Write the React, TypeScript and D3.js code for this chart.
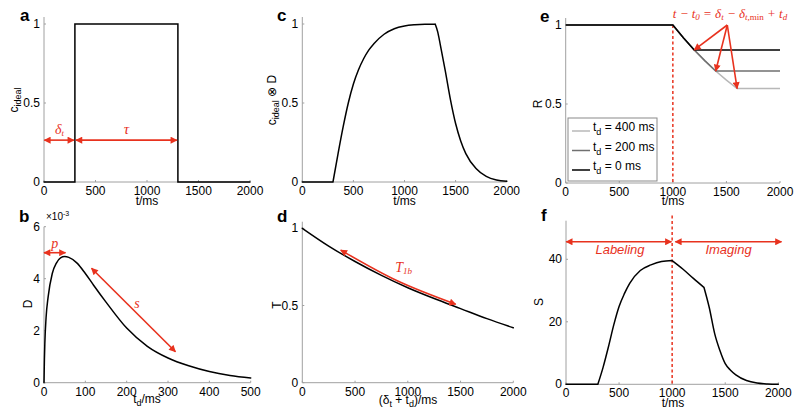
import React from "react";
import * as d3 from "d3";

const RED = "#e8321e";
const AXIS = "#a0a0a0";
const SANS = "'Liberation Sans', Arial, Helvetica, sans-serif";
const SERIF = "'Liberation Serif', 'Times New Roman', serif";

// ---------- data ----------
// (a) ideal labeling function
const tIdeal = [0, 300, 300, 1300, 1300, 2000];
const cIdeal = [0, 0, 1, 1, 0, 0];
const aArrowDelta = [3, 290];
const aArrowTau = [310, 1290];
const aArrowLevel = 0.265;

// (b) dispersion kernel D(td)  (values in units of 1e-3)
const tdB = [0, 1, 2, 5, 10, 20, 30, 40, 50, 60, 80, 100, 120, 150, 200, 250, 300, 350, 400, 450, 500];
const dB = [0, 0.9, 1.5, 2.5, 3.3, 4.2, 4.6, 4.8, 4.85, 4.82, 4.6, 4.2, 3.75, 3.1, 2.1, 1.4, 0.95, 0.65, 0.43, 0.28, 0.18];
const bArrowP = [0, 52];
const bArrowPLevel = 5.0;
const bArrowS = [[115, 4.4], [318, 1.19]];

// (c) convolved labeling function
const tC = [0, 300, 350, 400, 450, 500, 550, 600, 650, 700, 800, 900, 1000, 1100, 1200, 1300,
  1325, 1350, 1400, 1450, 1500, 1550, 1600, 1700, 1800, 1900, 2000];
const cConv = [0, 0, 0.18, 0.35, 0.50, 0.62, 0.71, 0.78, 0.835, 0.875, 0.935, 0.97, 0.987, 0.995, 0.999, 1.0,
  0.95, 0.87, 0.70, 0.52, 0.37, 0.26, 0.18, 0.085, 0.035, 0.012, 0.004];
const cBreaks = [300, 1300];

// (d) T1 decay
const tD = [0, 250, 500, 750, 1000, 1250, 1500, 1750, 2000];
const tDecay = [1.0, 0.885, 0.785, 0.695, 0.615, 0.545, 0.48, 0.415, 0.356];
const dArrow = [[364, 0.859], [900, 0.66], [1454, 0.508]];

// (e) readout signal R for three delays
const tR400 = [0, 1000, 1100, 1200, 1300, 1400, 1500, 1600, 2000];
const r400 = [1, 1, 0.918, 0.842, 0.773, 0.709, 0.651, 0.598, 0.598];
const tR200 = [0, 1000, 1100, 1200, 1300, 1400, 2000];
const r200 = [1, 1, 0.918, 0.842, 0.773, 0.709, 0.709];
const tR0 = [0, 1000, 1100, 1200, 2000];
const r0 = [1, 1, 0.918, 0.842, 0.842];
const eArrowFrom = [1508, 1.0];
const eArrowTo = [[1200, 0.842], [1400, 0.709], [1600, 0.598]];
const legendLabels = ["400", "200", "0"];

// (f) measured signal S
const tS = [0, 300, 350, 400, 450, 500, 550, 600, 700, 800, 900, 1000, 1100, 1200, 1300,
  1350, 1400, 1450, 1500, 1550, 1600, 1700, 1800, 1900, 2000];
const sS = [0, 0, 5.5, 12, 19, 24.9, 29, 32.3, 36.4, 38.2, 39.3, 39.6, 36.9, 33.9, 31.0,
  24.5, 16.3, 10.8, 6.6, 4.5, 3.0, 1.2, 0.4, 0.1, 0];
const sBreaks = [300, 1000, 1300];
const fArrowLevel = 45.6;
const fArrowLabeling = [2, 993];
const fArrowImaging = [1030, 2030];
const fDashTop = 54;

const xTicks2000 = [0, 500, 1000, 1500, 2000];
const xTicks500 = [0, 100, 200, 300, 400, 500];
const yTicksUnit = [0, 0.5, 1];
const yTicksD = [0, 2, 4, 6];
const yTicksS = [0, 20, 40];

// ---------- helpers ----------
type Sc = d3.ScaleLinear<number, number>;

function Axes({ x, y, xTicks, yTicks, yTop }: { x: Sc; y: Sc; xTicks: number[]; yTicks: number[]; yTop: number }) {
  const [x0, x1] = x.range();
  const y0 = y.range()[0];
  return (
    <g fontFamily={SANS} fontSize={12} fill="#000">
      <line x1={x0} x2={x0} y1={yTop} y2={y0} stroke={AXIS} strokeWidth={1} />
      <line x1={x0} x2={x1} y1={y0} y2={y0} stroke={AXIS} strokeWidth={1} />
      {xTicks.map((t) => (
        <g key={"x" + t}>
          <line x1={x(t)} x2={x(t)} y1={y0} y2={y0 - 2} stroke={AXIS} />
          <text x={x(t)} y={y0 + 13} textAnchor="middle">{t}</text>
        </g>
      ))}
      {yTicks.map((t) => (
        <g key={"y" + t}>
          <line x1={x0} x2={x0 + 2} y1={y(t)} y2={y(t)} stroke={AXIS} />
          <text x={x0 - 4} y={y(t) + 4} textAnchor="end">{t}</text>
        </g>
      ))}
    </g>
  );
}

function linePath(xs: number[], ys: number[], x: Sc, y: Sc, curve: d3.CurveFactory = d3.curveLinear, breaks: number[] = []) {
  const pts = xs.map((t, i) => [t, ys[i]] as [number, number]);
  const gen = d3.line<[number, number]>().x((d) => x(d[0])).y((d) => y(d[1])).curve(curve);
  const segs: [number, number][][] = [];
  let cur: [number, number][] = [];
  pts.forEach((p) => {
    cur.push(p);
    if (breaks.includes(p[0]) && cur.length > 1) {
      segs.push(cur);
      cur = [p];
    }
  });
  if (cur.length > 1) segs.push(cur);
  return segs.map((s) => gen(s) || "").join("");
}

function PanelLetter({ x, y, ch }: { x: number; y: number; ch: string }) {
  return <text x={x} y={y} fontFamily={SANS} fontWeight="bold" fontSize={17}>{ch}</text>;
}

export default function App() {
  const xA = d3.scaleLinear().domain([0, 2000]).range([44, 250]);
  const yA = d3.scaleLinear().domain([0, 1]).range([182, 24]);
  const xC = d3.scaleLinear().domain([0, 2000]).range([302.3, 506.7]);
  const yC = d3.scaleLinear().domain([0, 1]).range([182, 24]);
  const xE = d3.scaleLinear().domain([0, 2000]).range([565.7, 780]);
  const yE = d3.scaleLinear().domain([0, 1]).range([183, 25]);
  const xB = d3.scaleLinear().domain([0, 500]).range([44, 250.7]);
  const yB = d3.scaleLinear().domain([0, 6]).range([382.7, 226.7]);
  const xD = d3.scaleLinear().domain([0, 2000]).range([302.3, 513.3]);
  const yD = d3.scaleLinear().domain([0, 1]).range([382.7, 228.3]);
  const xF = d3.scaleLinear().domain([0, 2000]).range([566, 778.3]);
  const yF = d3.scaleLinear().domain([0, 40]).range([384.3, 259.3]);

  const curveStroke = { fill: "none", stroke: "#000", strokeWidth: 1.5, strokeLinejoin: "round" as const, strokeLinecap: "round" as const };
  const redArrow = { stroke: RED, strokeWidth: 1.6, fill: "none", markerStart: "url(#ah)", markerEnd: "url(#ah)" };

  return (
    <svg width={800} height={418} style={{ position: "absolute", left: 0, top: 0, background: "#fff" }}>
      <defs>
        <marker id="ah" viewBox="0 0 10 10" refX={9} refY={5} markerWidth={8} markerHeight={7}
          markerUnits="userSpaceOnUse" orient="auto-start-reverse">
          <path d="M0,0 L10,5 L0,10 z" fill={RED} />
        </marker>
      </defs>

      {/* ---------- a ---------- */}
      <PanelLetter x={20} y={21} ch="a" />
      <Axes x={xA} y={yA} xTicks={xTicks2000} yTicks={yTicksUnit} yTop={17} />
      <path d={linePath(tIdeal, cIdeal, xA, yA)} {...curveStroke} strokeLinejoin="miter" />
      <line x1={xA(aArrowDelta[0])} x2={xA(aArrowDelta[1])} y1={yA(aArrowLevel)} y2={yA(aArrowLevel)} {...redArrow} />
      <line x1={xA(aArrowTau[0])} x2={xA(aArrowTau[1])} y1={yA(aArrowLevel)} y2={yA(aArrowLevel)} {...redArrow} />
      <text x={xA(150)} y={yA(aArrowLevel) - 6} textAnchor="middle" fill={RED} fontFamily={SERIF} fontStyle="italic" fontSize={14}>
        δ<tspan fontSize={9} dy={2}>t</tspan>
      </text>
      <text x={xA(800)} y={yA(aArrowLevel) - 6} textAnchor="middle" fill={RED} fontFamily={SERIF} fontStyle="italic" fontSize={15}>τ</text>
      <text transform="translate(18,100) rotate(-90)" textAnchor="middle" fontFamily={SANS} fontSize={12}>
        c<tspan fontSize={9} dy={3}>ideal</tspan>
      </text>
      <text x={147} y={205} textAnchor="middle" fontFamily={SANS} fontSize={12}>t/ms</text>

      {/* ---------- c ---------- */}
      <PanelLetter x={277} y={21} ch="c" />
      <Axes x={xC} y={yC} xTicks={xTicks2000} yTicks={yTicksUnit} yTop={17} />
      <path d={linePath(tC, cConv, xC, yC, d3.curveMonotoneX, cBreaks)} {...curveStroke} />
      <text transform="translate(276,100) rotate(-90)" textAnchor="middle" fontFamily={SANS} fontSize={12}>
        c<tspan fontSize={9} dy={3}>ideal</tspan><tspan dy={-3}> ⊗ D</tspan>
      </text>
      <text x={404.5} y={205} textAnchor="middle" fontFamily={SANS} fontSize={12}>t/ms</text>

      {/* ---------- e ---------- */}
      <PanelLetter x={540} y={22} ch="e" />
      <Axes x={xE} y={yE} xTicks={xTicks2000} yTicks={yTicksUnit} yTop={18} />
      <line x1={xE(1000)} x2={xE(1000)} y1={yE(1)} y2={yE(0)} stroke={RED} strokeWidth={1.5} strokeDasharray="3,2.5" />
      <path d={linePath(tR400, r400, xE, yE)} fill="none" stroke="#b8b8b8" strokeWidth={1.5} />
      <path d={linePath(tR200, r200, xE, yE)} fill="none" stroke="#707070" strokeWidth={1.5} />
      <path d={linePath(tR0, r0, xE, yE)} fill="none" stroke="#000" strokeWidth={1.5} />
      {eArrowTo.map((p, i) => (
        <line key={i} x1={xE(eArrowFrom[0])} y1={yE(eArrowFrom[1])} x2={xE(p[0])} y2={yE(p[1])}
          stroke={RED} strokeWidth={1.6} markerEnd="url(#ah)" />
      ))}
      <text x={730} y={18} textAnchor="middle" fill={RED} fontFamily={SERIF} fontStyle="italic" fontSize={13}>
        t − t<tspan fontSize={9} dy={2}>0</tspan><tspan dy={-2}> = δ</tspan><tspan fontSize={9} dy={2}>t</tspan>
        <tspan dy={-2}> − δ</tspan><tspan fontSize={9} dy={2}>t,</tspan><tspan fontSize={9} fontStyle="normal">min</tspan>
        <tspan dy={-2}> + t</tspan><tspan fontSize={9} dy={2}>d</tspan>
      </text>
      <g>
        <rect x={568} y={118} width={89} height={63} fill="#fff" stroke="#8a8a8a" strokeWidth={1} />
        {legendLabels.map((lab, i) => {
          const yy = 131 + i * 19.5;
          const col = ["#b8b8b8", "#707070", "#000"][i];
          return (
            <g key={lab}>
              <line x1={572} x2={590} y1={yy} y2={yy} stroke={col} strokeWidth={1.5} />
              <text x={593} y={yy} fontFamily={SANS} fontSize={12}>
                t<tspan fontSize={9} dy={4}>d</tspan><tspan dy={-4}> = {lab} ms</tspan>
              </text>
            </g>
          );
        })}
      </g>
      <text transform="translate(542,104) rotate(-90)" textAnchor="middle" fontFamily={SANS} fontSize={12}>R</text>
      <text x={673} y={205} textAnchor="middle" fontFamily={SANS} fontSize={12}>t/ms</text>

      {/* ---------- b ---------- */}
      <PanelLetter x={19} y={222} ch="b" />
      <Axes x={xB} y={yB} xTicks={xTicks500} yTicks={yTicksD} yTop={226.7} />
      <text x={46} y={220} fontFamily={SANS} fontSize={10}>×10<tspan fontSize={7} dy={-4}>-3</tspan></text>
      <path d={linePath(tdB, dB, xB, yB, d3.curveMonotoneX)} {...curveStroke} />
      <line x1={xB(bArrowP[0])} x2={xB(bArrowP[1])} y1={yB(bArrowPLevel)} y2={yB(bArrowPLevel)} {...redArrow} />
      <text x={xB(26)} y={yB(bArrowPLevel) - 5} textAnchor="middle" fill={RED} fontFamily={SERIF} fontStyle="italic" fontSize={14}>p</text>
      <line x1={xB(bArrowS[0][0])} y1={yB(bArrowS[0][1])} x2={xB(bArrowS[1][0])} y2={yB(bArrowS[1][1])} {...redArrow} />
      <text x={xB(225)} y={yB(2.87)} textAnchor="middle" fill={RED} fontFamily={SERIF} fontStyle="italic" fontSize={14}>s</text>
      <text transform="translate(32,304) rotate(-90)" textAnchor="middle" fontFamily={SANS} fontSize={12}>D</text>
      <text x={147} y={403} textAnchor="middle" fontFamily={SANS} fontSize={12}>
        t<tspan fontSize={9} dy={3}>d</tspan><tspan dy={-3}>/ms</tspan>
      </text>

      {/* ---------- d ---------- */}
      <PanelLetter x={277} y={222} ch="d" />
      <Axes x={xD} y={yD} xTicks={xTicks2000} yTicks={yTicksUnit} yTop={221.7} />
      <path d={linePath(tD, tDecay, xD, yD, d3.curveMonotoneX)} {...curveStroke} />
      <path d={linePath(dArrow.map((p) => p[0]), dArrow.map((p) => p[1]), xD, yD, d3.curveNatural)} {...redArrow} />
      <text x={xD(960)} y={yD(0.715)} textAnchor="middle" fill={RED} fontFamily={SERIF} fontStyle="italic" fontSize={14}>
        T<tspan fontSize={9} dy={2}>1b</tspan>
      </text>
      <text transform="translate(281,305) rotate(-90)" textAnchor="middle" fontFamily={SANS} fontSize={12}>T</text>
      <text x={408} y={404} textAnchor="middle" fontFamily={SANS} fontSize={12}>
        (δ<tspan fontSize={9} dy={3}>t</tspan><tspan dy={-3}>  + t</tspan><tspan fontSize={9} dy={3}>d</tspan><tspan dy={-3}>)/ms</tspan>
      </text>

      {/* ---------- f ---------- */}
      <PanelLetter x={541} y={221} ch="f" />
      <Axes x={xF} y={yF} xTicks={xTicks2000} yTicks={yTicksS} yTop={220.7} />
      <line x1={xF(1000)} x2={xF(1000)} y1={yF(fDashTop)} y2={yF(0)} stroke={RED} strokeWidth={1.5} strokeDasharray="3,2.5" />
      <path d={linePath(tS, sS, xF, yF, d3.curveMonotoneX, sBreaks)} {...curveStroke} />
      <line x1={xF(fArrowLabeling[0])} x2={xF(fArrowLabeling[1])} y1={yF(fArrowLevel)} y2={yF(fArrowLevel)} {...redArrow} />
      <line x1={xF(fArrowImaging[0])} x2={xF(fArrowImaging[1])} y1={yF(fArrowLevel)} y2={yF(fArrowLevel)} {...redArrow} />
      <text x={620} y={254} textAnchor="middle" fill={RED} fontFamily={SANS} fontStyle="italic" fontSize={13}>Labeling</text>
      <text x={728.5} y={254} textAnchor="middle" fill={RED} fontFamily={SANS} fontStyle="italic" fontSize={13}>Imaging</text>
      <text transform="translate(543,302) rotate(-90)" textAnchor="middle" fontFamily={SANS} fontSize={12}>S</text>
      <text x={673} y={407} textAnchor="middle" fontFamily={SANS} fontSize={12}>t/ms</text>
    </svg>
  );
}
